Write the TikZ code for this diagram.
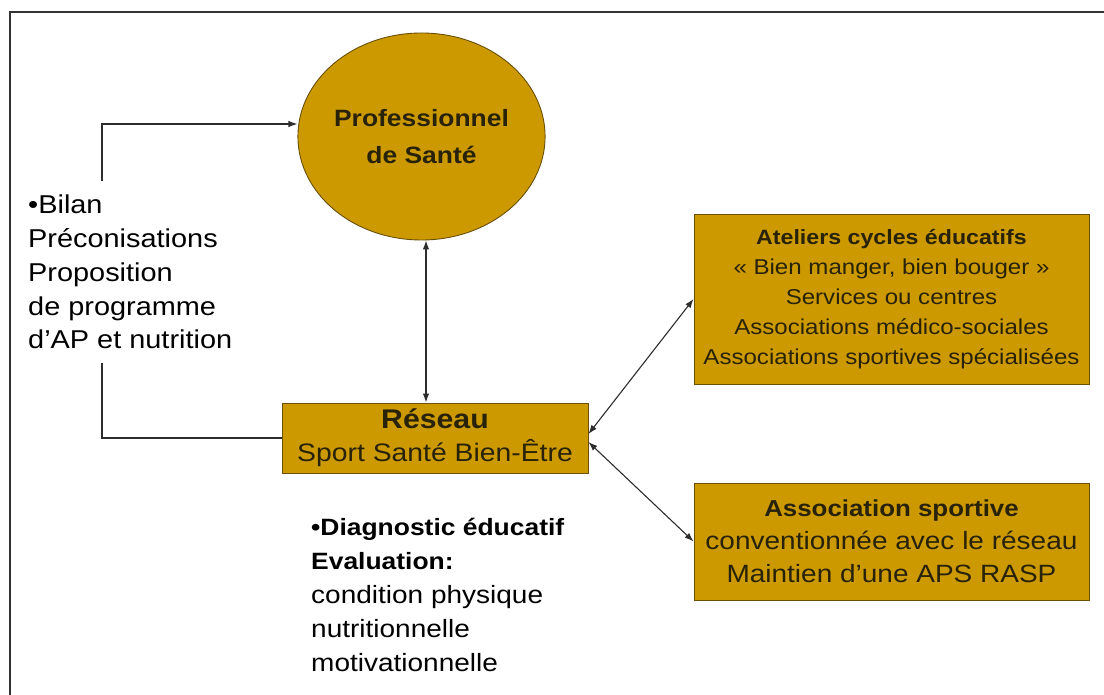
\documentclass[tikz,border=0pt]{standalone}
\usepackage{fontspec}
\setmainfont[FakeStretch=1.12]{Liberation Sans}
\usetikzlibrary{arrows.meta,shapes.geometric}
\definecolor{gold}{RGB}{204,153,0}
\definecolor{goldline}{RGB}{105,80,10}
\definecolor{boxtext}{RGB}{40,34,8}
\definecolor{connc}{RGB}{45,45,45}
\begin{document}
\begin{tikzpicture}[x=1pt,y=-1pt,
  conn/.style={draw=connc, line width=1.1pt},
  tip/.tip={Latex[length=9pt,width=6.5pt]},
  dbl/.style={conn, tip-tip},
  one/.style={conn, -tip},
  goldbox/.style={draw=goldline, line width=0.9pt, fill=gold, text=boxtext, align=center, inner sep=0pt},
  lbl/.style={text=black, align=left, inner xsep=2pt, anchor=west}
]
\useasboundingbox (0,0) rectangle (1104,695);
\fill[white] (0,0) rectangle (1104,695);
% frame
\draw[line width=1.3pt, black!80] (10,700) -- (10,12) -- (1110,12);

% nodes
\node[goldbox, ellipse, minimum width=243pt, minimum height=207pt,
      font=\bfseries\fontsize{23.6}{37}\selectfont] (prof) at (421.5,136.5)
      {Professionnel\\de Santé};
\node[goldbox, rectangle, minimum width=306pt, minimum height=70pt,
      font=\fontsize{25.3}{33}\selectfont] (reseau) at (435,438)
      {{\bfseries\fontsize{27}{33}\selectfont Réseau}\\Sport Santé Bien-Être};
\node[goldbox, rectangle, minimum width=395pt, minimum height=170pt,
      font=\fontsize{21.5}{30}\selectfont] (ateliers) at (891.5,299)
      {{\bfseries\fontsize{20.7}{30}\selectfont Ateliers cycles éducatifs}\\
       « Bien manger, bien bouger »\\Services ou centres\\
       Associations médico-sociales\\Associations sportives spécialisées};
\node[goldbox, rectangle, minimum width=395pt, minimum height=117pt,
      font=\fontsize{25}{33}\selectfont] (assoc) at (891.5,541.5)
      {{\bfseries\fontsize{23.1}{33}\selectfont Association sportive}\\
       conventionnée avec le réseau\\Maintien d’une APS RASP};

% connectors
\coordinate (e1) at (102,438);
\coordinate (e2) at (102,124);
\coordinate (vx) at (426,0);
\draw[one] (reseau.west) -- (e1) -- (e2) -- (prof.west |- e2);
\draw[dbl] (prof.south -| vx) -- (reseau.north -| vx);
\draw[dbl] ([yshift=4pt]reseau.east) -- (ateliers.west);
\draw[dbl] ([yshift=-4pt]reseau.east) -- (assoc.west);

% labels
\node[lbl, fill=white, inner ysep=14pt, font=\fontsize{25.8}{33.8}\selectfont] (bilan) at (26,272)
  {•Bilan\\Préconisations\\Proposition\\de programme\\d’AP et nutrition};
\node[lbl, inner ysep=2pt, font=\fontsize{25}{34}\selectfont] (diag) at (309,595)
  {{\bfseries\fontsize{23.6}{34}\selectfont •Diagnostic éducatif}\\
   {\bfseries\fontsize{23.6}{34}\selectfont Evaluation:}\\
   condition physique\\nutritionnelle\\motivationnelle};
\end{tikzpicture}
\end{document}
